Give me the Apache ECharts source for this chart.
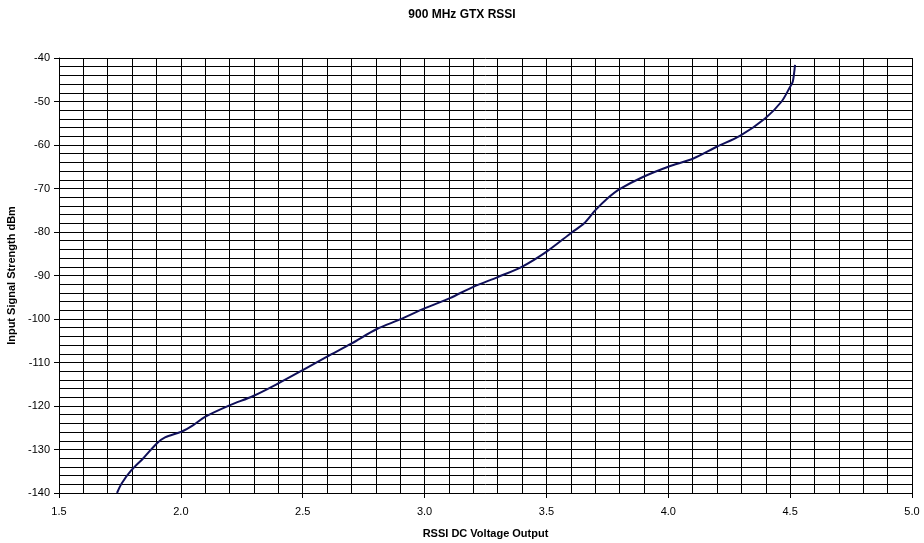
<!DOCTYPE html>
<html>
<head>
<meta charset="utf-8">
<script src="https://cdn.jsdelivr.net/npm/echarts@6/dist/echarts.min.js"></script>
<style>
html,body{margin:0;padding:0;background:#fff;}
#chart{width:924px;height:543px;}
</style>
</head>
<body>
<div id="chart"></div>
<script>
// RSSI DC voltage (V)
const voltage = [1.738,1.757,1.798,1.846,1.901,1.935,2.003,2.051,2.099,2.202,2.297,2.400,2.502,2.598,2.701,2.804,2.899,3.002,3.104,3.200,3.303,3.399,3.501,3.604,3.655,3.699,3.750,3.802,3.898,4.000,4.103,4.199,4.294,4.397,4.465,4.500,4.511,4.520];
// Input signal strength (dBm)
const strength = [-140,-137.8,-134.7,-132,-128.6,-127.2,-125.9,-124.4,-122.5,-119.8,-117.7,-114.8,-111.7,-108.7,-105.6,-102.3,-100.1,-97.5,-95.2,-92.6,-90.3,-88,-84.5,-80.1,-78,-75.1,-72.3,-70.1,-67.3,-65,-63.1,-60.4,-57.9,-53.9,-50,-46.6,-45.4,-41.6];

const chart = echarts.init(document.getElementById('chart'));
const font = '"Liberation Sans", Arial, sans-serif';
const axisCommon = {
  axisLine: {show: true, lineStyle: {color: '#000', width: 1}},
  axisTick: {show: true, inside: false, length: 5, lineStyle: {color: '#000'}},
  minorTick: {show: false, splitNumber: 5},
  splitLine: {show: true, lineStyle: {color: '#000', width: 1}},
  minorSplitLine: {show: true, lineStyle: {color: '#000', width: 1}},
  axisLabel: {color: '#000', fontFamily: font, fontSize: 11},
  nameTextStyle: {color: '#000', fontFamily: font, fontSize: 11, fontWeight: 'bold'}
};
chart.setOption({
  animation: false,
  backgroundColor: '#fff',
  title: {
    text: '900 MHz GTX RSSI',
    left: 'center',
    top: 4,
    textStyle: {color: '#000', fontFamily: font, fontSize: 12, fontWeight: 'bold'}
  },
  grid: {left: 59, right: 12, top: 58, bottom: 50, containLabel: false, outerBoundsMode: 'none'},
  xAxis: Object.assign({}, axisCommon, {
    type: 'value', min: 1.5, max: 5.0, interval: 0.5,
    name: 'RSSI DC Voltage Output', nameLocation: 'middle', nameGap: 35,
    axisLabel: Object.assign({}, axisCommon.axisLabel, {margin: 13, formatter: v => v.toFixed(1)})
  }),
  yAxis: Object.assign({}, axisCommon, {
    type: 'value', min: -140, max: -40, interval: 10,
    name: 'Input Signal Strength dBm', nameLocation: 'middle', nameGap: 42,
    axisLabel: Object.assign({}, axisCommon.axisLabel, {margin: 9})
  }),
  series: [{
    type: 'line',
    data: voltage.map((v, i) => [v, strength[i]]),
    showSymbol: false,
    smooth: 0.3,
    lineStyle: {color: '#10105a', width: 2},
    z: 5
  }]
});
</script>
</body>
</html>
